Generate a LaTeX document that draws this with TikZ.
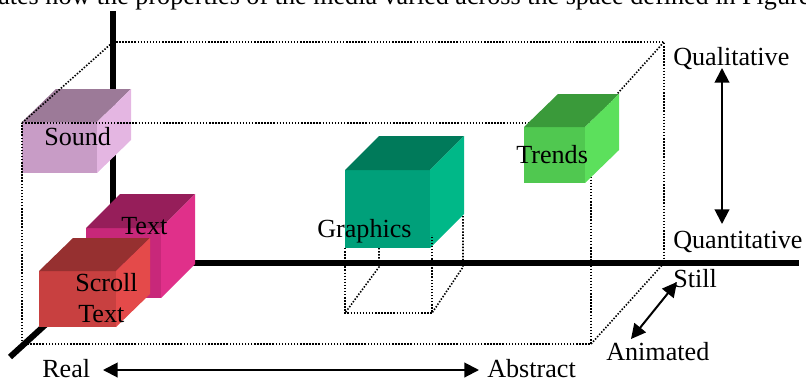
\documentclass[tikz,border=0pt]{standalone}
\usepackage{fontspec}
\setmainfont{Liberation Serif}
\usetikzlibrary{arrows.meta}
\definecolor{sndF}{HTML}{C89CC6}
\definecolor{sndT}{HTML}{9C7A98}
\definecolor{sndS}{HTML}{E4B6E2}
\definecolor{txtF}{HTML}{C8287A}
\definecolor{txtT}{HTML}{961E5A}
\definecolor{txtS}{HTML}{E0308A}
\definecolor{scrF}{HTML}{C84040}
\definecolor{scrT}{HTML}{963030}
\definecolor{scrS}{HTML}{E44A4A}
\definecolor{grfF}{HTML}{00A07A}
\definecolor{grfT}{HTML}{007A5A}
\definecolor{grfS}{HTML}{00B888}
\definecolor{trdF}{HTML}{50C850}
\definecolor{trdT}{HTML}{3A9A3A}
\definecolor{trdS}{HTML}{5CE05C}
\tikzset{
  lbl/.style={anchor=base west, inner sep=0pt, font=\fontsize{19.6}{23}\selectfont},
  axisline/.style={line width=4.5pt},
  guide/.style={line width=1.2pt, dash pattern=on 1.1pt off 1.2pt},
  dblarrow/.style={line width=1.5pt, {Triangle[length=11pt,width=11pt]}-{Triangle[length=11pt,width=11pt]}},
}
% front rectangle x1 y1 x2 y2, depth dx dy(up), front, top, side colours
\newcommand\mycube[9]{%
  \fill[#7] (#1,#2) rectangle (#3,#4);
  \fill[#8] (#1,#2) -- (#1+#5,#2-#6) -- (#3+#5,#2-#6) -- (#3,#2) -- cycle;
  \fill[#9] (#3,#2) -- (#3+#5,#2-#6) -- (#3+#5,#4-#6) -- (#3,#4) -- cycle;
}
\begin{document}
\begin{tikzpicture}[x=0.75pt,y=-0.75pt]
\useasboundingbox (0,0) rectangle (806,383);
\clip (0,0) rectangle (806,383);
% caption fragment
\node[lbl] (cap) at (-2,4) {ates how the properties of the media varied across the space defined in Figure};
% axes
\coordinate (O) at (113,263);
\coordinate (Ytop) at (113,11);
\coordinate (Xend) at (799,263);
\coordinate (Zend) at (10,357);
\draw[axisline] (O) -- (Ytop);
\draw[axisline] (O) -- (Xend);
\draw[axisline] (O) -- (Zend);
% Sound cube (under the guide lines)
\mycube{22}{122}{97}{173}{34}{33}{sndF}{sndT}{sndS}
% dotted space box
\coordinate (B1) at (113,42);
\coordinate (B2) at (664,42);
\coordinate (B3) at (664,263);
\coordinate (F1) at (22,123);
\coordinate (F2) at (591,123);
\coordinate (F3) at (591,344);
\coordinate (F4) at (22,344);
\draw[guide] (B1) -- (B2) -- (B3);
\draw[guide] (F1) -- (F2) -- (F3) -- (F4) -- cycle;
\draw[guide] (F1) -- (B1);
\draw[guide] (F2) -- (B2);
\draw[guide] (F3) -- (B3);
% Graphics cube and its floor shadow
\mycube{345}{170}{430}{248}{34}{34}{grfF}{grfT}{grfS}
\coordinate (G1) at (345,248);
\coordinate (G2) at (432,235);
\coordinate (G3) at (379,248);
\coordinate (G4) at (463,216);
\coordinate (S1) at (345,313);
\coordinate (S2) at (432,313);
\coordinate (S3) at (379,267);
\coordinate (S4) at (463,267);
\draw[guide] (G1) -- (S1) -- (S2) -- (G2);
\draw[guide] (G3) -- (S3) -- (S1);
\draw[guide] (G4) -- (S4) -- (S2);
% Trends cube
\mycube{524}{127}{585}{183}{34}{33}{trdF}{trdT}{trdS}
% Text and Scroll Text cubes
\mycube{86}{228}{161}{298}{34}{34}{txtF}{txtT}{txtS}
\mycube{39}{271}{116}{327}{34}{33}{scrF}{scrT}{scrS}
% box labels
\node[lbl] (sound) at (44,145) {Sound};
\node[lbl] (text) at (121,234) {Text};
\node[lbl] (scroll) at (75,291) {Scroll};
\node[lbl] (scrolltext) at (78,322) {Text};
\node[lbl] (graphics) at (317,237) {Graphics};
\node[lbl] (trends) at (516,163) {Trends};
% axis labels
\node[lbl] (qual) at (673,65) {Qualitative};
\node[lbl] (quant) at (673,248) {Quantitative};
\node[lbl] (still) at (673,287) {Still};
\node[lbl] (anim) at (606,360) {Animated};
\node[lbl] (real) at (42,377) {Real};
\node[lbl] (abs) at (487,377) {Abstract};
% arrows
\coordinate (RA1) at (103,370);
\coordinate (RA2) at (479,370);
\coordinate (QQ1) at (722,68);
\coordinate (QQ2) at (722,224);
\coordinate (SA1) at (677,282);
\coordinate (SA2) at (631,339);
\draw[dblarrow] (RA1) -- (RA2);
\draw[dblarrow] (QQ1) -- (QQ2);
\draw[dblarrow] (SA1) -- (SA2);
\end{tikzpicture}
\end{document}
